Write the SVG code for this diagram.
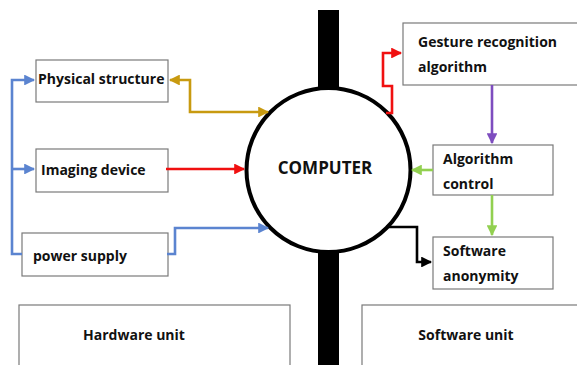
<svg xmlns="http://www.w3.org/2000/svg" width="577" height="365" viewBox="0 0 577 365">
<style>
.box{fill:#fff;stroke:#7a7a7a;stroke-width:1.2}
.t{font-family:"Open Sans","Noto Sans",sans-serif;font-weight:bold;font-size:14px;fill:#111}
.c{fill:none;stroke-width:2.6;stroke-linejoin:miter}
</style>
<defs>
<marker id="ab" viewBox="0 0 10 10" refX="9" refY="5" markerWidth="4.2" markerHeight="4.2" orient="auto-start-reverse"><path d="M0,0L10,5L0,10z" fill="#5b84d0"/></marker>
<marker id="ag" viewBox="0 0 10 10" refX="9" refY="5" markerWidth="4.2" markerHeight="4.2" orient="auto-start-reverse"><path d="M0,0L10,5L0,10z" fill="#c89a10"/></marker>
<marker id="ar" viewBox="0 0 10 10" refX="9" refY="5" markerWidth="4.2" markerHeight="4.2" orient="auto-start-reverse"><path d="M0,0L10,5L0,10z" fill="#f01010"/></marker>
<marker id="ap" viewBox="0 0 10 10" refX="9" refY="5" markerWidth="4.2" markerHeight="4.2" orient="auto-start-reverse"><path d="M0,0L10,5L0,10z" fill="#7e4dbf"/></marker>
<marker id="al" viewBox="0 0 10 10" refX="9" refY="5" markerWidth="4.2" markerHeight="4.2" orient="auto-start-reverse"><path d="M0,0L10,5L0,10z" fill="#92d050"/></marker>
<marker id="ak" viewBox="0 0 10 10" refX="9" refY="5" markerWidth="4.2" markerHeight="4.2" orient="auto-start-reverse"><path d="M0,0L10,5L0,10z" fill="#000"/></marker>
</defs>
<rect width="577" height="365" fill="#fff"/>
<g id="hardware-unit"><rect class="box" x="19" y="305" width="271" height="70"/><text class="t" x="134" y="340" text-anchor="middle">Hardware unit</text></g>
<g id="software-unit"><rect class="box" x="362" y="305" width="230" height="70"/><text class="t" x="466" y="340" text-anchor="middle">Software unit</text></g>
<g id="bar"><rect x="318" y="10" width="21" height="360" fill="#000"/></g>
<g id="computer"><circle cx="328.5" cy="170" r="82" fill="#fff" stroke="#000" stroke-width="4"/><text x="325" y="174" text-anchor="middle" font-family="Open Sans, Noto Sans, sans-serif" font-weight="bold" font-size="17" fill="#111">COMPUTER</text></g>
<g id="physical-structure"><rect class="box" x="36" y="60" width="132" height="42"/><text class="t" x="38" y="84">Physical structure</text></g>
<g id="imaging-device"><rect class="box" x="36" y="149" width="132" height="43"/><text class="t" x="41" y="175">Imaging device</text></g>
<g id="power-supply"><rect class="box" x="22" y="233" width="146" height="43"/><text class="t" x="33" y="261">power supply</text></g>
<g id="gesture-recognition"><rect class="box" x="403" y="23" width="180" height="62"/><text class="t" x="418" y="47">Gesture recognition</text><text class="t" x="418" y="72">algorithm</text></g>
<g id="algorithm-control"><rect class="box" x="433" y="145" width="120" height="50"/><text class="t" x="443" y="164">Algorithm</text><text class="t" x="443" y="189">control</text></g>
<g id="software-anonymity"><rect class="box" x="433" y="237" width="120" height="52"/><text class="t" x="443" y="256">Software</text><text class="t" x="443" y="281">anonymity</text></g>
<g id="connectors">
<path class="c" stroke="#5b84d0" d="M22,254H12V80H34" marker-end="url(#ab)"/>
<path class="c" stroke="#5b84d0" d="M12,169H34" marker-end="url(#ab)"/>
<path class="c" stroke="#5b84d0" d="M167,254H175V228H268" marker-end="url(#ab)"/>
<path class="c" stroke="#c89a10" d="M170,80H190V112H268" marker-start="url(#ag)" marker-end="url(#ag)"/>
<path class="c" stroke="#f01010" d="M166,169H244" marker-end="url(#ar)"/>
<path class="c" stroke="#f01010" d="M386,113H392V86H383V53H401" marker-end="url(#ar)"/>
<path class="c" stroke="#7e4dbf" d="M492,85V143" marker-end="url(#ap)"/>
<path class="c" stroke="#92d050" d="M433,170H412" marker-end="url(#al)"/>
<path class="c" stroke="#92d050" d="M492,195V235" marker-end="url(#al)"/>
<path class="c" stroke="#000" d="M386,227H417V262H431" marker-end="url(#ak)"/>
</g>
</svg>
